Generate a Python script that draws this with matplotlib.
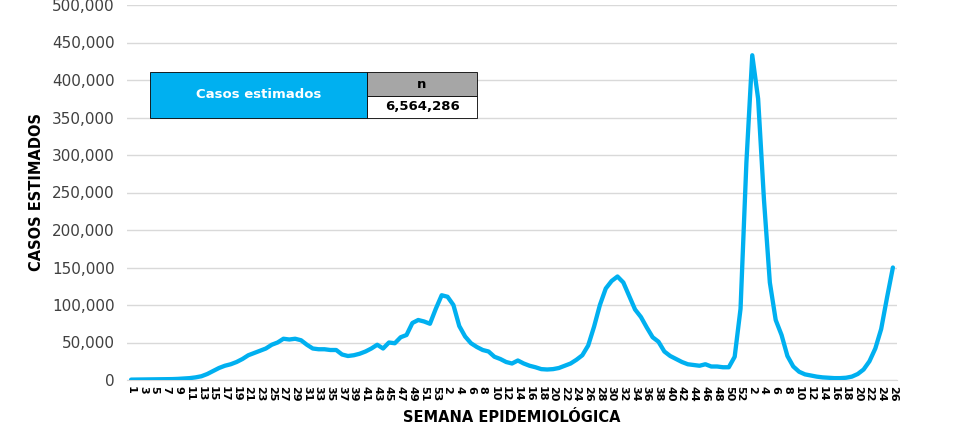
import matplotlib
matplotlib.use("Agg")
import matplotlib.pyplot as plt
from matplotlib.patches import Rectangle
from matplotlib.ticker import FuncFormatter

plt.rcParams['font.family'] = ['DejaVu Sans']

weeks_2020 = list(range(1, 54))
weeks_2021 = list(range(1, 53))
weeks_2022 = list(range(1, 27))

cases_2020 = [500, 600, 700, 800, 900, 1000, 1100, 1200, 1500, 2000,
              2500, 3500, 5000, 8000, 12000, 16000, 19000, 21000, 24000, 28000,
              33000, 36000, 39000, 42000, 47000, 50000, 55000, 54000, 55000, 53000,
              47000, 42000, 41000, 41000, 40000, 40000, 34000, 32000, 33000, 35000,
              38000, 42000, 47000, 42000, 50000, 49000, 57000, 60000, 76000, 80000,
              78000, 75000, 95000]
cases_2021 = [113000, 111000, 100000, 72000, 58000, 49000, 44000, 40000, 38000, 31000,
              28000, 24000, 22000, 26000, 22000, 19000, 17000, 14500, 14000, 14500,
              16000, 19000, 22000, 27000, 33000, 46000, 71000, 100000, 122000, 132000,
              138000, 130000, 112000, 94000, 84000, 70000, 57000, 51000, 38000, 32000,
              28000, 24000, 21000, 20000, 19000, 21000, 18000, 18000, 17000, 17000,
              31000, 95000]
cases_2022 = [290000, 433000, 375000, 240000, 130000, 80000, 60000, 32000, 18000, 11000,
              7500, 6000, 4500, 3500, 3000, 2500, 2500, 3000, 4500, 8000,
              14000, 25000, 42000, 68000, 110000, 150000]

total_label = "6,564,286"

weeks = weeks_2020 + weeks_2021 + weeks_2022
cases = cases_2020 + cases_2021 + cases_2022
x = list(range(len(cases)))

W, H = 961, 429
fig = plt.figure(figsize=(W / 100, H / 100), dpi=100)
ax = fig.add_axes([127 / W, 49 / H, 770 / W, 375 / H])

ax.plot(x, cases, color='#00B0F0', lw=3.1, solid_joinstyle='round', solid_capstyle='round', zorder=3)

ax.set_xlim(-0.7, len(cases) - 1 + 0.7)
ax.set_ylim(0, 500000)
ax.set_yticks(range(0, 500001, 50000))
ax.yaxis.set_major_formatter(FuncFormatter(lambda v, p: f"{int(v):,}"))
ax.grid(axis='y', color='#D9D9D9', lw=1.0)
ax.set_axisbelow(True)
for s in ['top', 'right', 'left']:
    ax.spines[s].set_visible(False)
ax.spines['bottom'].set_color('#D9D9D9')

tick_pos = [i for i in x if i % 2 == 0]
ax.set_xticks(tick_pos)
ax.set_xticklabels([str(weeks[i]) for i in tick_pos], rotation=-90, fontsize=8,
                   fontweight='bold', color='#000000')
ax.tick_params(axis='x', length=0, pad=4)
ax.tick_params(axis='y', length=0, pad=9, labelsize=11, labelcolor='#404040')

fig.text(512 / W, 1 - 417 / H, "SEMANA EPIDEMIOLÓGICA", fontsize=10.5, fontweight='bold',
         ha='center', va='center')
fig.text(37 / W, 1 - 192 / H, "CASOS ESTIMADOS", fontsize=10.5, fontweight='bold',
         ha='center', va='center', rotation=90)

def fr(px, py, pw, ph):
    return (px / W, 1 - (py + ph) / H), pw / W, ph / H

(xy, w, h) = fr(150, 72, 217, 46)
fig.add_artist(Rectangle(xy, w, h, transform=fig.transFigure, facecolor='#00B0F0', edgecolor='#000000', lw=0.6))
fig.text((150 + 217 / 2) / W, 1 - 95 / H, "Casos estimados", color='white', fontsize=9.5,
         fontweight='bold', ha='center', va='center')
(xy, w, h) = fr(367, 72, 110, 24)
fig.add_artist(Rectangle(xy, w, h, transform=fig.transFigure, facecolor='#A6A6A6', edgecolor='#000000', lw=0.6))
fig.text(422 / W, 1 - 84 / H, "n", color='black', fontsize=9.5, fontweight='bold', ha='center', va='center')
(xy, w, h) = fr(367, 96, 110, 22)
fig.add_artist(Rectangle(xy, w, h, transform=fig.transFigure, facecolor='white', edgecolor='#000000', lw=0.6))
fig.text(422 / W, 1 - 107 / H, total_label, color='black', fontsize=9.5, fontweight='bold', ha='center', va='center')

fig.savefig("out.png", dpi=100)
